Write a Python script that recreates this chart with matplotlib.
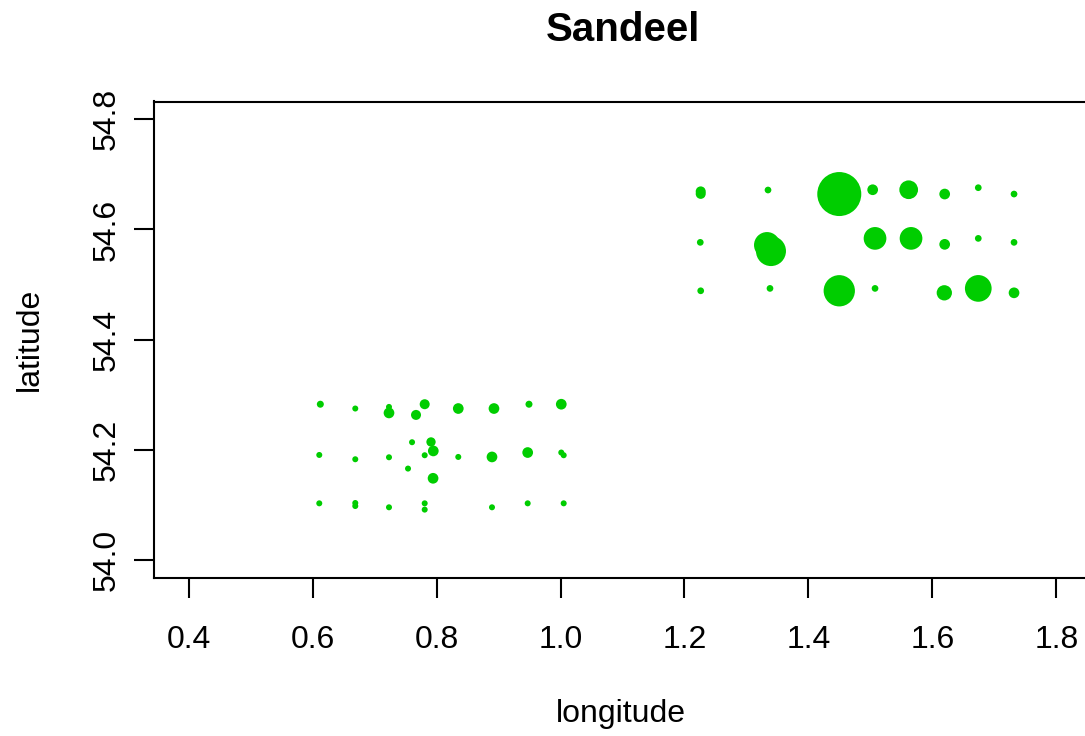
import matplotlib
matplotlib.use("Agg")
import matplotlib.pyplot as plt
import numpy as np

# ---- data ----
lon = [0.6124, 0.6688, 0.7232, 0.7232, 0.7808, 0.7668, 0.7604, 0.7910, 0.7947, 0.7808,
       0.6107, 0.6688, 0.7232, 0.7539, 0.7943, 0.6107, 0.6688, 0.6688, 0.7232, 0.7808,
       0.7808, 0.8350, 0.8926, 0.9491, 1.0012, 0.8350, 0.8894, 0.9470, 1.0012, 1.0051,
       0.8894, 0.9470, 1.0051,
       1.2262, 1.2262, 1.3348, 1.4498, 1.5037, 1.5618, 1.6199, 1.6741, 1.7318,
       1.2255, 1.3332, 1.3396, 1.5075, 1.5656, 1.6199, 1.6741, 1.7318,
       1.2262, 1.3380, 1.4498, 1.5075, 1.6193, 1.6741, 1.7318]
lat = [54.2831, 54.2753, 54.2782, 54.2673, 54.2831, 54.2637, 54.2142, 54.2147, 54.1984, 54.1906,
       54.1911, 54.1833, 54.1869, 54.1664, 54.1488, 54.1034, 54.1040, 54.0985, 54.0962, 54.1034,
       54.0920, 54.2753, 54.2753, 54.2831, 54.2831, 54.1875, 54.1875, 54.1955, 54.1955, 54.1906,
       54.0962, 54.1034, 54.1034,
       54.6690, 54.6645, 54.6715, 54.6642, 54.6720, 54.6720, 54.6642, 54.6757, 54.6642,
       54.5766, 54.5717, 54.5608, 54.5838, 54.5838, 54.5730, 54.5838, 54.5766,
       54.4888, 54.4931, 54.4888, 54.4931, 54.4851, 54.4931, 54.4851]
# relative bubble size (symbol expansion)
cex = [7, 6, 6, 10.7, 10, 10, 6, 9.3, 10.7, 6,
       6, 6, 6, 6, 10.7, 6, 6, 6, 6, 6,
       6, 10.7, 10.7, 7, 10.7, 6, 10.7, 10.7, 6, 6,
       6, 6, 6,
       10, 10, 6.7, 44, 10.7, 18.7, 10.7, 6.7, 6.7,
       6.7, 26, 30, 22.7, 22.7, 10.7, 6.7, 6.7,
       6.7, 6.7, 31.3, 6.7, 15.3, 26.7, 10.7]

xticks = [0.4, 0.6, 0.8, 1.0, 1.2, 1.4, 1.6, 1.8]
yticks = [54.0, 54.2, 54.4, 54.6, 54.8]
xlim = (0.4, 1.8)
ylim = (54.0, 54.8)

plt.rcParams['font.family'] = ['Liberation Sans', 'DejaVu Sans']

W, H, DPI = 1085, 736, 100
fig = plt.figure(figsize=(W / DPI, H / DPI), dpi=DPI)
L, R, T, B = 154, 1091, 101.5, 578
ax = fig.add_axes([L / W, (H - B) / H, (R - L) / W, (B - T) / H])

sizes = (np.array(cex) * 72 / DPI) ** 2
ax.scatter(lon, lat, s=sizes, color='#00CD00', linewidths=0, zorder=3)

# R-style 4% range extension
dx = (xlim[1] - xlim[0]) * 0.04
dy = (ylim[1] - ylim[0]) * 0.04
ax.set_xlim(xlim[0] - dx, xlim[1] + dx)
ax.set_ylim(ylim[0] - dy, ylim[1] + dy)

ax.set_xticks(xticks)
ax.set_xticklabels([f"{v:.1f}" for v in xticks])
ax.set_yticks(yticks)
ax.set_yticklabels([f"{v:.1f}" for v in yticks], rotation=90, va='center')

for s in ax.spines.values():
    s.set_linewidth(1.5)
ax.tick_params(axis='both', direction='out', length=14.4, width=1.5, labelsize=23)
ax.tick_params(axis='x', pad=19.5)
ax.tick_params(axis='y', pad=9)

ax.set_xlabel('longitude', fontsize=23)
ax.xaxis.set_label_coords(0.5 - 2 / (R - L), (B - 714) / (B - T))
ax.xaxis.label.set_va('center')
ax.set_ylabel('latitude', fontsize=23)
ax.yaxis.set_label_coords((30 - L) / (R - L), 0.5)
ax.yaxis.label.set_va('center')

ax.text(0.5, 1 + (T - 30) / (B - T), 'Sandeel', transform=ax.transAxes,
        ha='center', va='center', fontsize=29, fontweight='bold')

fig.savefig('out.png', dpi=DPI)
